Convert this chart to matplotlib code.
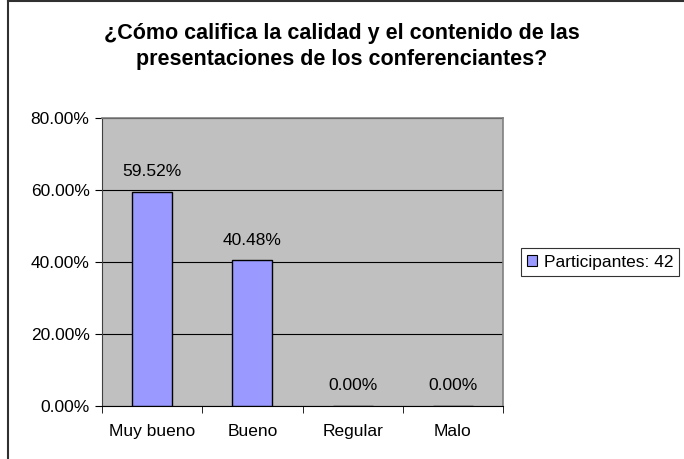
import matplotlib.pyplot as plt
from matplotlib.lines import Line2D
from matplotlib.patches import Patch
from matplotlib.ticker import FuncFormatter, FixedLocator

categories = ['Muy bueno', 'Bueno', 'Regular', 'Malo']
values = [59.52, 40.48, 0.00, 0.00]
series_name = 'Participantes: 42'
title = '¿Cómo califica la calidad y el contenido de las\npresentaciones de los conferenciantes?'

plt.rcParams['font.family'] = ['Liberation Sans', 'DejaVu Sans']

W, H = 684, 459
fs = 12.5
fig = plt.figure(figsize=(W / 100, H / 100), dpi=100)
ax = fig.add_axes([102 / W, 1 - 406 / H, (503 - 102) / W, (406 - 118) / H])

x = list(range(len(categories)))
ax.bar(x, values, width=0.4, color='#9999FF', edgecolor='black', linewidth=1, zorder=3)

for xi, v in zip(x, values):
    ax.annotate(f'{v:.2f}%', (xi, v), xytext=(0, 9), textcoords='offset points',
                ha='center', va='bottom', fontsize=fs)

ax.set_xlim(-0.5, len(categories) - 0.5)
ax.set_ylim(0, 80)
ax.set_facecolor('#C0C0C0')
ax.set_yticks([0, 20, 40, 60, 80])
ax.yaxis.set_major_formatter(FuncFormatter(lambda v, p: f'{v:.2f}%'))
ax.yaxis.grid(True, color='black', linewidth=0.8, zorder=1)
ax.set_axisbelow(True)

ax.set_xticks(x)
ax.set_xticklabels(categories, fontsize=fs)
ax.tick_params(axis='x', length=0, pad=13)
ax.xaxis.set_minor_locator(FixedLocator([i - 0.5 for i in range(len(categories) + 1)]))
ax.tick_params(axis='x', which='minor', length=5, direction='out', color='black')
ax.tick_params(axis='y', length=5, direction='out', labelsize=fs, pad=4)

for s in ['top', 'right']:
    ax.spines[s].set_color('#808080')
    ax.spines[s].set_linewidth(1.2)
ax.spines['left'].set_color('#404040')
ax.spines['bottom'].set_color('black')

fig.text(342 / W, 1 - 46.5 / H, title, ha='center', va='center', fontsize=15.5,
         fontweight='bold', linespacing=1.32)

handle = Patch(facecolor='#9999FF', edgecolor='black', linewidth=0.8)
leg = fig.legend([handle], [series_name], loc='center left',
                 bbox_to_anchor=(521 / W, 1 - 262 / H), fontsize=fs,
                 frameon=True, fancybox=False, handlelength=0.6, handleheight=0.6,
                 handletextpad=0.35, borderpad=0.35, borderaxespad=0)
leg.get_frame().set_edgecolor('black')
leg.get_frame().set_linewidth(0.8)

fig.add_artist(Line2D([8 / W, 8 / W], [0, 1], color='#303030', linewidth=1.5))
fig.add_artist(Line2D([8 / W, 1], [1 - 1 / H, 1 - 1 / H], color='#303030', linewidth=1.5))

fig.savefig('out.png', dpi=100)
